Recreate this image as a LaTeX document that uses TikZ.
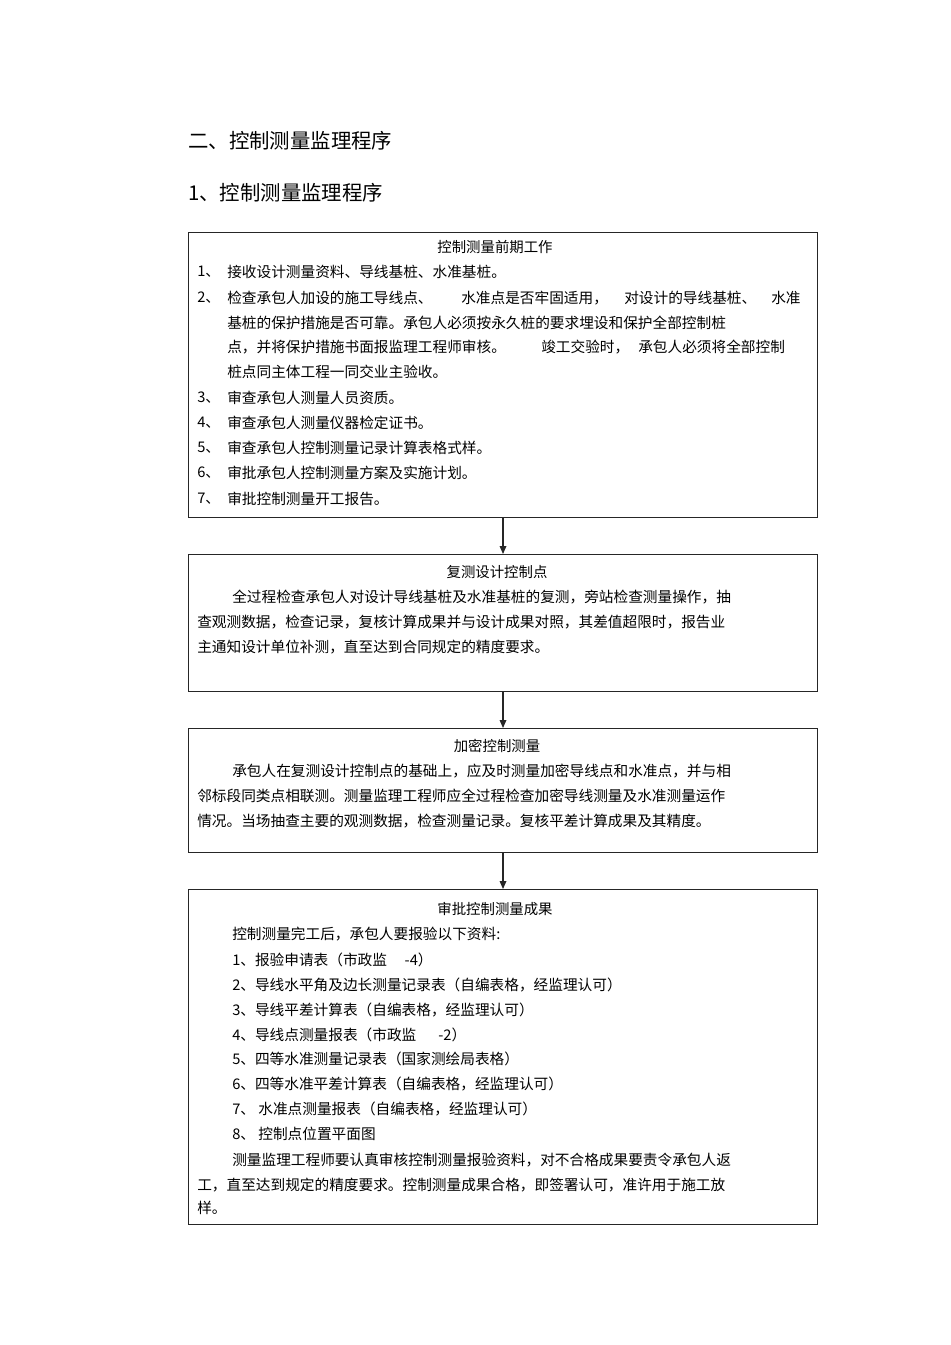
\documentclass[tikz,border=0pt]{standalone}
\usepackage{fontspec}
\setmainfont{Liberation Sans}
\newfontfamily\cjk{Noto Sans CJK SC}
\usetikzlibrary{arrows.meta}

\begin{document}
\begin{tikzpicture}[x=0.75pt,y=-0.75pt,
		kuang/.style={draw=black!85,line width=0.75pt,anchor=north west,inner sep=0,minimum width=471.75pt},
		hang/.style={anchor=west,inner sep=0,font=\cjk\fontsize{11}{13}\selectfont},
		biaoti/.style={anchor=center,inner sep=0,font=\cjk\fontsize{10.8}{13}\selectfont},
		dabiao/.style={anchor=west,inner sep=0,font=\cjk\fontsize{15.3}{18}\selectfont},
		jiantou/.style={draw=black!85,line width=0.9pt,-{Triangle[length=6pt,width=5pt]}}]
		\useasboundingbox (0,0) rectangle (950,1345);
		\node[dabiao] (h1) at (188,141) {二、控制测量监理程序};
		\node[dabiao] (h2) at (188,193) {1、控制测量监理程序};
		% boxes
		\node[kuang,minimum height=213.75pt] (k1) at (188,232) {};
		\node[kuang,minimum height=102.75pt] (k2) at (188,554) {};
		\node[kuang,minimum height=93pt] (k3) at (188,728) {};
		\node[kuang,minimum height=251.25pt] (k4) at (188,889) {};
		\draw[jiantou] (k1.south) -- (k2.north);
		\draw[jiantou] (k2.south) -- (k3.north);
		\draw[jiantou] (k3.south) -- (k4.north);
		% box 1
		\node[biaoti] (a0) at (495,247) {控制测量前期工作};
		\node[hang] (a1n) at (197,272) {1、};
		\node[hang] (a1) at (227,272) {接收设计测量资料、导线基桩、水准基桩。};
		\node[hang] (a2n) at (197,298) {2、};
		\node[hang] (a2a) at (227,298) {检查承包人加设的施工导线点、};
		\node[hang] (a2b) at (461,298) {水准点是否牢固适用，};
		\node[hang] (a2c) at (624,298) {对设计的导线基桩、};
		\node[hang] (a2d) at (771,298) {水准};
		\node[hang] (a3) at (227,323) {基桩的保护措施是否可靠。承包人必须按永久桩的要求埋设和保护全部控制桩};
		\node[hang] (a4a) at (227,347) {点，并将保护措施书面报监理工程师审核。};
		\node[hang] (a4b) at (541,347) {竣工交验时，};
		\node[hang] (a4c) at (638,347) {承包人必须将全部控制};
		\node[hang] (a5) at (227,372) {桩点同主体工程一同交业主验收。};
		\node[hang] (a6n) at (197,398) {3、};
		\node[hang] (a6) at (227,398) {审查承包人测量人员资质。};
		\node[hang] (a7n) at (197,423) {4、};
		\node[hang] (a7) at (227,423) {审查承包人测量仪器检定证书。};
		\node[hang] (a8n) at (197,448) {5、};
		\node[hang] (a8) at (227,448) {审查承包人控制测量记录计算表格式样。};
		\node[hang] (a9n) at (197,473) {6、};
		\node[hang] (a9) at (227,473) {审批承包人控制测量方案及实施计划。};
		\node[hang] (a10n) at (197,499) {7、};
		\node[hang] (a10) at (227,499) {审批控制测量开工报告。};
		% box 2
		\node[biaoti] (b0) at (497,572) {复测设计控制点};
		\node[hang] (b1) at (232,597) {全过程检查承包人对设计导线基桩及水准基桩的复测，旁站检查测量操作，抽};
		\node[hang] (b2) at (197,622) {查观测数据，检查记录，复核计算成果并与设计成果对照，其差值超限时，报告业};
		\node[hang] (b3) at (197,647) {主通知设计单位补测，直至达到合同规定的精度要求。};
		% box 3
		\node[biaoti] (c0) at (497,746) {加密控制测量};
		\node[hang] (c1) at (232,771) {承包人在复测设计控制点的基础上，应及时测量加密导线点和水准点，并与相};
		\node[hang] (c2) at (197,796) {邻标段同类点相联测。测量监理工程师应全过程检查加密导线测量及水准测量运作};
		\node[hang] (c3) at (197,821) {情况。当场抽查主要的观测数据，检查测量记录。复核平差计算成果及其精度。};
		% box 4
		\node[biaoti] (d0) at (495,909) {审批控制测量成果};
		\node[hang] (d1) at (232,934) {控制测量完工后，承包人要报验以下资料:};
		\node[hang] (d2) at (232,960) {1、报验申请表（市政监\hspace{1.2em}-4）};
		\node[hang] (d3) at (232,985) {2、导线水平角及边长测量记录表（自编表格，经监理认可）};
		\node[hang] (d4) at (232,1010) {3、导线平差计算表（自编表格，经监理认可）};
		\node[hang] (d5) at (232,1035) {4、导线点测量报表（市政监\hspace{1.5em}-2）};
		\node[hang] (d6) at (232,1059) {5、四等水准测量记录表（国家测绘局表格）};
		\node[hang] (d7) at (232,1084) {6、四等水准平差计算表（自编表格，经监理认可）};
		\node[hang] (d8) at (232,1109) {7、\ 水准点测量报表（自编表格，经监理认可）};
		\node[hang] (d9) at (232,1134) {8、\ 控制点位置平面图};
		\node[hang] (d10) at (232,1160) {测量监理工程师要认真审核控制测量报验资料，对不合格成果要责令承包人返};
		\node[hang] (d11) at (197,1185) {工，直至达到规定的精度要求。控制测量成果合格，即签署认可，准许用于施工放};
		\node[hang] (d12) at (197,1208) {样。};
\end{tikzpicture}
\end{document}
